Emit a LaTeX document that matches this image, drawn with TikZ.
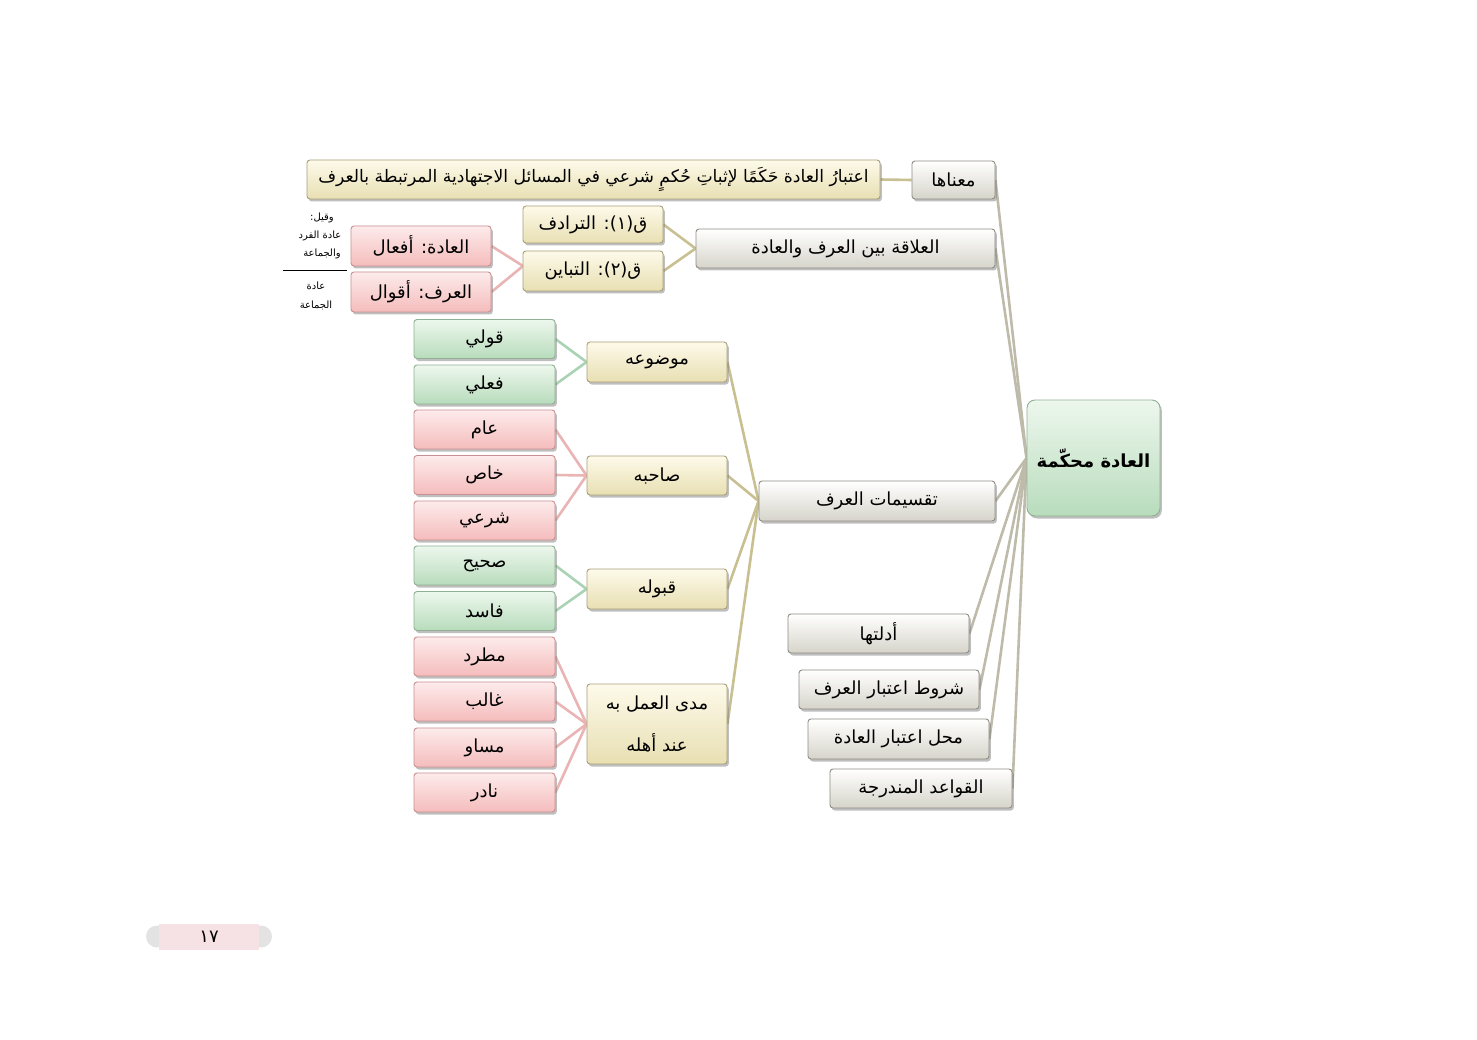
\documentclass[tikz,border=0pt]{standalone}
\usepackage{fontspec}
\TeXXeTstate=1
\newfontfamily\arabicfont[Script=Arabic]{DejaVu Sans}
\usetikzlibrary{shadows,backgrounds}
\newcommand\ar[1]{{\arabicfont\beginR #1\endR}}
\definecolor{grT}{HTML}{FFFFFF}\definecolor{grB}{HTML}{D6D4CA}\definecolor{grD}{HTML}{8E8C84}
\definecolor{beT}{HTML}{FDFAEA}\definecolor{beB}{HTML}{E8DFB2}\definecolor{beD}{HTML}{A8A07A}
\definecolor{piT}{HTML}{FDEBEB}\definecolor{piB}{HTML}{F5BCBC}\definecolor{piD}{HTML}{C89090}
\definecolor{gnT}{HTML}{EDF7ED}\definecolor{gnB}{HTML}{B8DCBC}\definecolor{gnD}{HTML}{8FB092}
\definecolor{lnO}{HTML}{C9C092}\definecolor{lnG}{HTML}{BFBBAA}\definecolor{lnP}{HTML}{EAB4B4}\definecolor{lnN}{HTML}{A9D3B3}
\definecolor{pgP}{HTML}{F6E2E5}
\tikzset{
  box/.style={draw, rounded corners=3pt, line width=0.9pt, inner sep=0pt, align=center,
    drop shadow={opacity=0.5, shadow xshift=1.8pt, shadow yshift=-2.5pt},
    font=\fontsize{18}{20}\selectfont},
  graybox/.style={box, draw=grD, top color=grT, bottom color=grB},
  beigebox/.style={box, draw=beD, top color=beT, bottom color=beB},
  pinkbox/.style={box, draw=piD, top color=piT, bottom color=piB},
  greenbox/.style={box, draw=gnD, top color=gnT, bottom color=gnB},
  leafP/.style={pinkbox, minimum width=141pt, minimum height=39pt},
  leafG/.style={greenbox, minimum width=141pt, minimum height=39pt},
  midbox/.style={beigebox, minimum width=140pt},
  conO/.style={draw=lnO, line width=2.6pt},
  conG/.style={draw=lnG, line width=2.6pt},
  conP/.style={draw=lnP, line width=2.6pt},
  conN/.style={draw=lnN, line width=2.6pt},
  smalltxt/.style={inner sep=0pt, font=\fontsize{10}{12}\selectfont}
}
\begin{document}
\begin{tikzpicture}[x=1pt,y=-1pt]
\useasboundingbox (0,0) rectangle (1477,1040);
% top
\node[graybox, minimum width=83pt, minimum height=38pt] (maenaha) at (953.5,180) {\ar{معناها}};
\node[beigebox, minimum width=573pt, minimum height=39pt, font=\fontsize{17.2}{20}\selectfont] (def) at (593.5,179.5) {\ar{اعتبارُ العادة حَكَمًا لإثباتِ حُكمٍ شرعي في المسائل الاجتهادية المرتبطة بالعرف}};
\node[graybox, minimum width=299pt, minimum height=39pt] (alaqa) at (845.5,248.5) {\ar{العلاقة بين العرف والعادة}};
\node[beigebox, minimum width=140pt, minimum height=37pt] (q1) at (593,224.5) {\ar{ق(١): الترادف}};
\node[beigebox, minimum width=140pt, minimum height=40pt] (q2) at (593,271) {\ar{ق(٢): التباين}};
\node[pinkbox, minimum width=140pt, minimum height=40pt] (adah) at (421,246) {\ar{العادة: أفعال}};
\node[pinkbox, minimum width=140pt, minimum height=40pt] (urf) at (421,292) {\ar{العرف: أقوال}};
\coordinate (qj) at (523,266);
% small notes
\node[smalltxt] (n1) at (322,218) {\ar{وقيل:}};
\node[smalltxt] (n2) at (320,236) {\ar{عادة الفرد}};
\node[smalltxt] (n3) at (322,254) {\ar{والجماعة}};
\coordinate (sl1) at (283,270);
\coordinate (sl2) at (347,270);
\draw[line width=0.8pt] (sl1) -- (sl2);
\node[smalltxt] (n4) at (316,286) {\ar{عادة}};
\node[smalltxt] (n5) at (316,305) {\ar{الجماعة}};
% leaves
\node[leafG] (l1) at (484.5,339) {\ar{قولي}};
\node[leafG] (l2) at (484.5,384.5) {\ar{فعلي}};
\node[leafP] (l3) at (484.5,429.5) {\ar{عام}};
\node[leafP] (l4) at (484.5,475) {\ar{خاص}};
\node[leafP] (l5) at (484.5,520.5) {\ar{شرعي}};
\node[leafG] (l6) at (484.5,565.5) {\ar{صحيح}};
\node[leafG] (l7) at (484.5,611) {\ar{فاسد}};
\node[leafP] (l8) at (484.5,656.5) {\ar{مطرد}};
\node[leafP] (l9) at (484.5,701.5) {\ar{غالب}};
\node[leafP] (l10) at (484.5,747.5) {\ar{مساو}};
\node[leafP] (l11) at (484.5,792.5) {\ar{نادر}};
% middle
\node[midbox, minimum height=40pt] (m1) at (657,362) {\ar{موضوعه}};
\node[midbox, minimum height=39pt] (m2) at (657,475.5) {\ar{صاحبه}};
\node[midbox, minimum height=40pt] (m3) at (657,589) {\ar{قبوله}};
\node[midbox, minimum height=80pt, font=\fontsize{18}{42}\selectfont] (m4) at (657,724) {\ar{مدى العمل به}\\\ar{عند أهله}};
\node[graybox, minimum width=236pt, minimum height=40pt] (taq) at (877,501) {\ar{تقسيمات العرف}};
% center
\node[greenbox, rounded corners=8pt, minimum width=133pt, minimum height=116pt, font=\bfseries\fontsize{18}{22}\selectfont] (root) at (1093.5,458) {\ar{العادة محكّمة}};
% lower
\node[graybox, minimum width=181pt, minimum height=39pt] (b1) at (878.5,633.5) {\ar{أدلتها}};
\node[graybox, minimum width=180pt, minimum height=39pt] (b2) at (889,689.5) {\ar{شروط اعتبار العرف}};
\node[graybox, minimum width=181pt, minimum height=40pt] (b3) at (898.5,739) {\ar{محل اعتبار العادة}};
\node[graybox, minimum width=182pt, minimum height=39pt] (b4) at (921,788.5) {\ar{القواعد المندرجة}};
% page number
\fill[gray!22] (157,936.5) circle (11pt);
\fill[gray!22] (261,936.5) circle (11pt);
\node[inner sep=0pt, fill=pgP, minimum width=100pt, minimum height=26pt, font=\fontsize{18}{20}\selectfont] (pg) at (209,936.5) {\ar{١٧}};
% connectors
\begin{scope}[on background layer]
\fill[white] (0,0) rectangle (1477,1040);
\draw[conO] (def.east) -- (maenaha.west);
\draw[conO] (q1.east) -- (alaqa.west);
\draw[conO] (q2.east) -- (alaqa.west);
\draw[conP] (adah.east) -- (qj);
\draw[conP] (urf.east) -- (qj);
\draw[conN] (l1.east) -- (m1.west);
\draw[conN] (l2.east) -- (m1.west);
\draw[conP] (l3.east) -- (m2.west);
\draw[conP] (l4.east) -- (m2.west);
\draw[conP] (l5.east) -- (m2.west);
\draw[conN] (l6.east) -- (m3.west);
\draw[conN] (l7.east) -- (m3.west);
\draw[conP] (l8.east) -- (m4.west);
\draw[conP] (l9.east) -- (m4.west);
\draw[conP] (l10.east) -- (m4.west);
\draw[conP] (l11.east) -- (m4.west);
\draw[conO] (m1.east) -- (taq.west);
\draw[conO] (m2.east) -- (taq.west);
\draw[conO] (m3.east) -- (taq.west);
\draw[conO] (m4.east) -- (taq.west);
\draw[conG] (maenaha.east) -- (root.west);
\draw[conG] (alaqa.east) -- (root.west);
\draw[conG] (taq.east) -- (root.west);
\draw[conG] (b1.east) -- (root.west);
\draw[conG] (b2.east) -- (root.west);
\draw[conG] (b3.east) -- (root.west);
\draw[conG] (b4.east) -- (root.west);
\end{scope}
\end{tikzpicture}
\end{document}
